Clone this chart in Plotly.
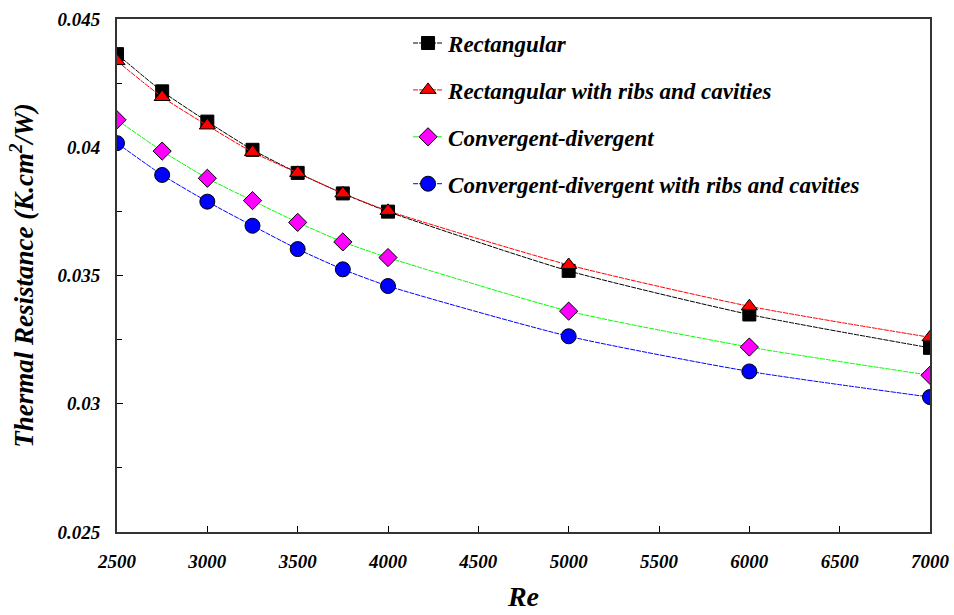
import plotly.graph_objects as go

# Reynolds numbers
re_values = [2500, 2750, 3000, 3250, 3500, 3750, 4000, 5000, 6000, 7000]

# Thermal resistance (K.cm2/W) for each channel design
rectangular = [0.04363, 0.04218, 0.04100, 0.03990, 0.03900, 0.03820, 0.03749, 0.03518, 0.03348, 0.03218]
rect_ribs = [0.04336, 0.04196, 0.04085, 0.03981, 0.03900, 0.03820, 0.03752, 0.03541, 0.03380, 0.03259]
conv_div = [0.04107, 0.03985, 0.03879, 0.03792, 0.03707, 0.03631, 0.03570, 0.03361, 0.03221, 0.03111]
conv_div_ribs = [0.04016, 0.03892, 0.03788, 0.03694, 0.03603, 0.03524, 0.03459, 0.03263, 0.03126, 0.03026]

names = [
    "Rectangular",
    "Rectangular with ribs and cavities",
    "Convergent-divergent",
    "Convergent-divergent with ribs and cavities",
]

y_tick_vals = [0.025, 0.03, 0.035, 0.04, 0.045]
y_tick_text = ["0.025", "0.03", "0.035", "0.04", "0.045"]
x_tick_vals = [2500, 3000, 3500, 4000, 4500, 5000, 5500, 6000, 6500, 7000]

font_family = "Liberation Serif"

series = [
    (rectangular, "black", "black", "square", 13),
    (rect_ribs, "red", "red", "triangle-up", 14),
    (conv_div, "#00ff00", "#ff00ff", "diamond", 14),
    (conv_div_ribs, "#0000ff", "#0000ff", "circle", 15),
]

fig = go.Figure()
for i, (name, (vals, lcol, mcol, sym, size)) in enumerate(zip(names, series)):
    fig.add_trace(go.Scatter(
        x=re_values, y=vals, name=name, legendgroup=f"g{i}",
        mode="lines+markers",
        line=dict(color=lcol, width=1, shape="spline", smoothing=0.6, dash="5px,1px"),
        marker=dict(symbol=sym, size=size, color=mcol, line=dict(color="black", width=1)),
    ))

fig.update_layout(
    width=954, height=615,
    margin=dict(l=117, r=24, t=19, b=83),
    paper_bgcolor="white", plot_bgcolor="white",
    font=dict(family=font_family, color="black", weight="bold", style="italic"),
    showlegend=True,
    legend=dict(
        x=0.358, y=0.995, xanchor="left", yanchor="top",
        bgcolor="rgba(0,0,0,0)", borderwidth=0,
        font=dict(family=font_family, size=23, weight="bold", style="italic", color="black"),
        tracegroupgap=14, itemwidth=30,
    ),
)

fig.update_xaxes(
    range=[2500, 7000], tickvals=x_tick_vals, automargin=False,
    ticks="inside", ticklen=6, tickwidth=1, tickcolor="black",
    showline=True, linecolor="#333333", linewidth=2, mirror=True,
    showgrid=False, zeroline=False, ticklabelstandoff=11,
    tickfont=dict(family=font_family, size=19, weight="bold", style="italic", color="black"),
    title=dict(text="Re", font=dict(family=font_family, size=28, weight="bold", style="italic"), standoff=16),
)
fig.update_yaxes(
    range=[0.025, 0.045], tickvals=y_tick_vals, ticktext=y_tick_text, automargin=False,
    ticks="inside", ticklen=6, tickwidth=1, tickcolor="black",
    minor=dict(ticks="inside", dtick=0.0025, ticklen=5, tickcolor="black"),
    showline=True, linecolor="#333333", linewidth=2, mirror=True,
    showgrid=False, zeroline=False, ticklabelstandoff=11,
    tickfont=dict(family=font_family, size=19, weight="bold", style="italic", color="black"),
    title=dict(text="Thermal Resistance (K.cm<sup>2</sup>/W)",
               font=dict(family=font_family, size=27, weight="bold", style="italic"), standoff=16),
)

fig.write_html("out.html")
